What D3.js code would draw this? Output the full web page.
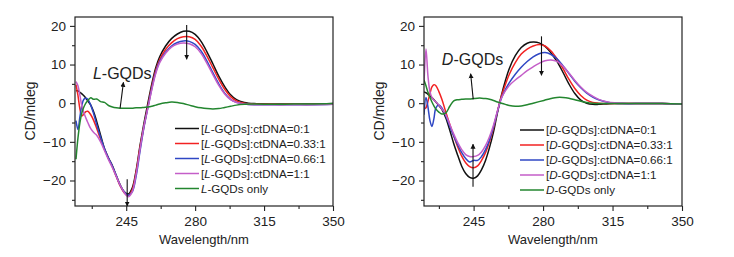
<!DOCTYPE html>
<html>
<head>
<meta charset="utf-8">
<script src="https://cdn.jsdelivr.net/npm/d3@7"></script>
<style>
  body { margin: 0; background: #fff; }
  svg text { font-family: "Liberation Sans", Arial, sans-serif; fill: #222; }
</style>
</head>
<body>
<div id="chart"></div>
<script>
// wavelength grid (nm) and CD values (mdeg)
const wavelengthL = [219.5, 220.5, 221.5, 222.5, 223.5, 224.5, 225.5, 227, 228.5, 230,
  232, 234, 236, 238, 240, 242, 244, 246, 248, 250, 252, 254, 256, 258, 260, 262,
  265, 268, 271, 274, 277, 280, 283, 286, 289, 292, 295, 298, 301,
  305, 310, 320, 330, 340, 350]
const L_0_1 = [3.2, 3.2, 2.8, 2.4, 1.9, 1.3, 0.6, -0.5, -2.3, -4.7,
  -8.3, -11.8, -14.2, -16.2, -18.8, -21.2, -22.9, -23.5, -22, -17.5, -11, -5.2, 0, 5, 9.2, 12,
  14.8, 16.7, 17.9, 18.6, 18.6, 17.8, 16, 13.3, 10.2, 7, 4.3, 2.2, 0.9,
  0.2, -0.1, -0.2, -0.2, -0.2, -0.1]
const L_033_1 = [4.8, 2, -1.5, -3.3, -2.8, -2.2, -2.1, -3, -4.5, -6.5,
  -9.3, -12, -14.3, -16.5, -19, -21.5, -23.2, -24, -22.5, -18, -11.5, -6, -0.8, 4.3, 8.5, 11.3,
  13.9, 15.6, 16.7, 17.2, 17.2, 16.5, 14.8, 12.2, 9.2, 6.2, 3.6, 1.7, 0.6,
  0, -0.2, -0.3, -0.3, -0.3, -0.2]
const L_066_1 = [-4.5, -6.8, -3.5, -0.5, 1, 1.3, 1, -0.5, -2.8, -5.5,
  -8.8, -11.8, -14.2, -16.3, -18.8, -21.3, -23, -23.8, -23, -19, -12.5, -6.3, -1.2, 3.8, 8, 10.8,
  13.2, 14.8, 15.7, 16.1, 16, 15.2, 13.5, 10.9, 7.9, 5, 2.6, 1, 0.2,
  -0.2, -0.4, -0.4, -0.4, -0.4, -0.3]
const L_1_1 = [5.6, 4.5, 2, -0.8, -2.5, -3.8, -5, -6.6, -7.6, -8.3,
  -10, -12.3, -14.6, -16.7, -19, -21.3, -23.1, -24.2, -23, -18.5, -12, -6, -1.3, 3.5, 7.7, 10.5,
  12.9, 14.5, 15.3, 15.6, 15.4, 14.6, 12.9, 10.3, 7.4, 4.6, 2.4, 0.9, 0.2,
  -0.2, -0.4, -0.4, -0.4, -0.4, -0.3]
const L_only = [-14.5, -9, -5, -2.5, -1, 0, 0.7, 1.4, 1.0, 1.1,
  0.4, 0.2, -0.6, -1, -1.2, -1.3, -1.3, -1.3, -1.3, -1.2, -1.2, -1.1, -1, -0.8, -0.5, -0.2,
  0.1, 0.3, 0.2, -0.1, -0.5, -0.9, -1.2, -1.4, -1.5, -1.4, -1.1, -0.8, -0.5,
  -0.3, -0.2, -0.3, -0.2, -0.2, -0.1]

const wavelengthR = [220, 221, 222, 223, 224, 225, 226, 227.5, 229,
  231, 233, 235, 237, 239, 241, 243, 245, 247, 249, 251, 253, 255, 257, 259, 261, 263,
  266, 269, 272, 275, 278, 281, 284, 287, 290, 293, 296, 299, 302,
  305, 308, 312, 316, 320, 330, 340, 350]
const D_0_1 = [2.9, 2.7, 2.3, 1.9, 1.4, 0.9, 0.3, -0.6, -1.6,
  -3.8, -7, -10.5, -13.5, -16.3, -18.2, -19.2, -19.4, -18.8, -17.2, -14.8, -11.5, -7.5, -2.5, 2, 5.8, 9,
  12.3, 14.4, 15.5, 15.8, 15.6, 14.7, 13, 10.8, 8, 5, 2.5, 0.8, 0,
  -0.3, -0.3, -0.2, -0.1, -0.1, -0.1, -0.1, -0.2]
const D_033_1 = [-1.5, -1.2, 0.5, 2.5, 4.2, 4.8, 4.5, 3, 1,
  -2.3, -5.5, -8.5, -11.3, -13.7, -15.4, -16.4, -16.7, -16.2, -14.8, -12.8, -10, -6.5, -2.2, 1.8, 4.8, 7.5,
  10.5, 12.7, 14, 14.8, 15.2, 14.8, 13.5, 11.5, 9, 6.2, 3.8, 2, 0.8,
  0.2, 0, -0.1, -0.1, -0.1, -0.1, -0.1, -0.2]
const D_066_1 = [-3, 1.5, -1, -4.5, -6, -4, -1.2, -0.5, -1.2,
  -3.3, -6, -8.5, -10.8, -12.8, -14.3, -15.2, -14.8, -14.8, -13.8, -12, -9.5, -6.2, -2.2, 1.3, 3.5, 5.3,
  7.5, 9.3, 10.8, 12, 12.8, 13.1, 12.6, 11.5, 9.7, 7.7, 5.7, 4, 2.6,
  1.6, 0.9, 0.3, 0, -0.1, -0.1, -0.1, -0.2]
const D_1_1 = [5, 14, 7, 3, 1.5, 0.8, 0.3, -0.5, -1.5,
  -3, -5.5, -8, -10.2, -12, -13.3, -13.8, -13.8, -13.5, -12.6, -11, -8.7, -5.7, -2, 1.3, 3.2, 4.6,
  6, 7.2, 8.4, 9.4, 10.3, 11, 11.2, 10.8, 9.6, 7.8, 5.9, 4.2, 2.8,
  1.8, 1, 0.4, 0.1, 0, -0.1, -0.1, -0.2]
const D_only = [6, 4.5, 2.8, 1.5, 0.3, -0.7, -1.5, -2.3, -2.8,
  -2.5, -0.8, 0.6, 0.9, 1, 1.1, 1.1, 1.2, 1.3, 1.3, 1.2, 1, 0.7, 0.3, 0, -0.3, -0.6,
  -0.8, -0.7, -0.4, 0, 0.4, 0.8, 1.2, 1.5, 1.5, 1.3, 0.9, 0.5, 0.2,
  0, -0.1, -0.1, -0.1, -0.1, -0.1, -0.1, -0.2]

const ratioLabels = ['0:1', '0.33:1', '0.66:1', '1:1']
const seriesColors = ['#111111', '#f22222', '#2f47c4', '#c45ec8', '#23862f']
const majorXTicks = [245, 280, 315, 350]
const minorXTicks = [227.5, 262.5, 297.5, 332.5]
const majorYTicks = [-20, -10, 0, 10, 20]
const minorYTicks = [-25, -15, -5, 5, 15]

let svg = d3.select('#chart').append('svg').attr('width', 734).attr('height', 257)

// arrow head
svg.append('defs').append('marker')
  .attr('id', 'arrowHead')
  .attr('viewBox', '0 0 10 10')
  .attr('refX', 9).attr('refY', 5)
  .attr('markerWidth', 5).attr('markerHeight', 6)
  .attr('markerUnits', 'userSpaceOnUse')
  .attr('orient', 'auto')
  .append('path').attr('d', 'M0,0 L10,5 L0,10 Z').attr('fill', '#111')

function drawPanel (opt) {
  let g = svg.append('g')
  let x = d3.scaleLinear().domain(opt.xDomain).range([opt.left, opt.right])
  let y = d3.scaleLinear().domain([-26.6, 22.3]).range([206, 17])
  let id = 'clip' + opt.name

  g.append('clipPath').attr('id', id).append('rect')
    .attr('x', opt.left).attr('y', 17).attr('width', opt.right - opt.left).attr('height', 189)

  // curves
  let line = d3.line().x(d => x(d[0])).y(d => y(d[1])).curve(d3.curveCatmullRom.alpha(0.5))
  let curves = g.append('g').attr('clip-path', 'url(#' + id + ')')
  opt.series.forEach((vals, i) => {
    let pts = opt.wavelength.map((w, k) => [w, vals[k]])
    curves.append('path').datum(pts)
      .attr('d', line)
      .attr('fill', 'none')
      .attr('stroke', seriesColors[i])
      .attr('stroke-width', 1.5)
  })

  // frame
  g.append('rect').attr('x', opt.left).attr('y', 17)
    .attr('width', opt.right - opt.left).attr('height', 189)
    .attr('fill', 'none').attr('stroke', '#222').attr('stroke-width', 1.2)

  // axes
  let yAxis = d3.axisLeft(y).tickValues(majorYTicks).tickSize(5).tickSizeOuter(0).tickPadding(4)
  let yMinor = d3.axisLeft(y).tickValues(minorYTicks).tickSize(3).tickSizeOuter(0).tickFormat('')
  let xAxis = d3.axisBottom(x).tickValues(majorXTicks).tickSize(5).tickSizeOuter(0).tickPadding(5)
  let xMinor = d3.axisBottom(x).tickValues(minorXTicks).tickSize(3).tickSizeOuter(0).tickFormat('')
  let axes = [
    g.append('g').attr('transform', 'translate(' + opt.left + ',0)').call(yAxis),
    g.append('g').attr('transform', 'translate(' + opt.left + ',0)').call(yMinor),
    g.append('g').attr('transform', 'translate(0,206)').call(xAxis),
    g.append('g').attr('transform', 'translate(0,206)').call(xMinor)
  ]
  axes.forEach(a => {
    a.select('.domain').remove()
    a.selectAll('line').attr('stroke', '#222').attr('stroke-width', 1.1)
    a.selectAll('text').style('font-size', '13.5px').attr('fill', '#222')
  })

  // axis titles
  g.append('text').text('Wavelength/nm')
    .attr('x', (opt.left + opt.right) / 2).attr('y', 244)
    .attr('text-anchor', 'middle').style('font-size', '13px')
  g.append('text').text('CD/mdeg')
    .attr('transform', 'translate(' + (opt.left - 40) + ',111) rotate(-90)')
    .attr('text-anchor', 'middle').style('font-size', '14px')

  // legend
  let names = ratioLabels.map(r => ['[', opt.name, '-GQDs]:ctDNA=' + r])
  names.push(['', opt.name, '-GQDs only'])
  names.forEach((n, i) => {
    let ly = opt.legendTop + i * 15
    g.append('line')
      .attr('x1', opt.legendX).attr('x2', opt.legendX + 24)
      .attr('y1', ly).attr('y2', ly)
      .attr('stroke', seriesColors[i]).attr('stroke-width', 1.5)
    let t = g.append('text').attr('x', opt.legendX + 26).attr('y', ly + 4).style('font-size', '11.6px')
    t.append('tspan').text(n[0])
    t.append('tspan').text(n[1]).style('font-style', 'italic')
    t.append('tspan').text(n[2])
  })

  // annotation
  let lab = g.append('text')
    .attr('x', x(opt.label[0])).attr('y', y(opt.label[1]))
    .style('font-size', '16px')
  lab.append('tspan').text(opt.name).style('font-style', 'italic')
  lab.append('tspan').text('-GQDs')

  opt.arrows.forEach(a => {
    g.append('line')
      .attr('x1', x(a[0])).attr('y1', y(a[1]))
      .attr('x2', x(a[2])).attr('y2', y(a[3]))
      .attr('stroke', '#111').attr('stroke-width', 1.1)
      .attr('marker-end', 'url(#arrowHead)')
  })
}

drawPanel({
  name: 'L',
  left: 75,
  right: 333,
  xDomain: [219, 350],
  wavelength: wavelengthL,
  series: [L_0_1, L_033_1, L_066_1, L_1_1, L_only],
  legendX: 175,
  legendTop: 128.5,
  label: [228.1, 6.2],
  arrows: [[241.9, -1.3, 243.6, 5.4], [275.7, 20.2, 275.7, 11.4], [245.5, -19.7, 245.5, -26.6]]
})

drawPanel({
  name: 'D',
  left: 424,
  right: 682,
  xDomain: [220, 350],
  wavelength: wavelengthR,
  series: [D_0_1, D_033_1, D_066_1, D_1_1, D_only],
  legendX: 520,
  legendTop: 130,
  label: [229, 9.8],
  arrows: [[244.8, 1, 243.5, 7.6], [279.2, 17.3, 279.2, 7.2], [244.7, -21.6, 244.7, -10.6]]
})
</script>
</body>
</html>
